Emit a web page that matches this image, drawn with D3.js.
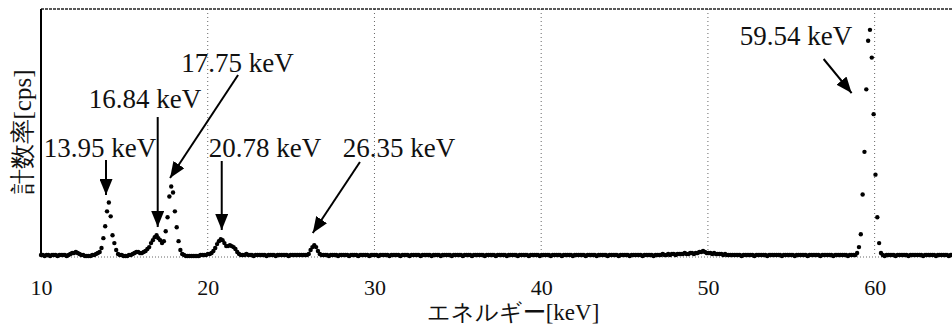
<!DOCTYPE html>
<html>
<head>
<meta charset="utf-8">
<script src="https://cdn.jsdelivr.net/npm/d3@7"></script>
<style>
  body { margin: 0; background: #fff; }
  text { fill: #111; }
</style>
</head>
<body>
<script>
const margin = {top: 9, right: -6, bottom: 68, left: 41};
const width = 952 - margin.left - margin.right;
const height = 325 - margin.top - margin.bottom;

// spectrum: one count rate per channel, channel i sits at startEnergy + i*channelWidth
const startEnergy = 10;
const channelWidth = 0.11;
const counts = [
  2,2,1,2,2,1,2,2,2,1, 2,2,2,2,1,2,3,4,4,5,
  4,3,2,2,1,1,1,1,2,2, 3,4,5,9,19,31,46,55,41,22,
  14,7,3,2,2,1,1,1,2,2, 3,4,5,5,4,4,5,6,8,10,
  14,17,20,22,19,17,14,16,26,40, 61,71,65,46,30,16,7,3,2,1,
  1,1,1,1,1,1,1,2,2,2, 2,3,3,4,6,9,13,16,18,17,
  14,11,11,12,11,10,8,5,3,2, 2,2,3,2,2,2,1,2,2,2,
  2,2,2,1,2,2,2,2,1,2, 2,2,2,2,2,1,2,2,2,2,
  2,2,2,2,2,2,3,7,10,12, 10,6,3,2,2,2,2,1,2,2,
  2,2,1,2,2,2,2,2,1,2, 2,2,2,1,2,2,2,2,2,1,
  2,2,2,2,1,2,2,2,2,2, 1,2,2,2,2,2,1,2,2,2,
  2,1,2,2,2,2,2,1,2,2, 2,2,2,1,2,2,2,2,1,2,
  2,2,2,2,1,2,2,2,2,2, 1,2,2,2,2,1,2,2,2,2,
  2,2,1,2,2,2,2,2,1,2, 2,2,2,2,1,2,2,2,2,2,
  1,2,2,2,2,2,1,2,2,2, 2,2,1,2,2,2,2,2,1,2,
  2,2,2,2,1,2,2,2,2,2, 1,2,2,2,2,2,2,1,2,2,
  2,2,2,1,2,2,2,2,2,1, 2,2,2,2,2,1,2,2,2,2,
  2,1,2,2,2,2,2,2,1,2, 2,2,2,2,1,2,2,2,2,3,
  2,2,3,2,3,3,2,3,3,3, 3,4,3,3,4,4,3,4,4,5,
  5,6,5,4,4,4,3,4,3,3, 3,3,2,3,2,2,2,2,2,2,
  2,2,1,2,2,2,2,2,2,1, 2,2,2,2,2,2,1,2,2,2,
  2,2,2,2,1,2,2,2,2,2, 2,1,2,2,2,2,2,2,1,2,
  2,2,2,2,2,1,2,2,2,2, 2,2,1,2,2,2,2,2,2,2,
  1,2,2,2,2,4,10,23,63,106, 169,218,229,201,144,83,40,14,4,2,
  1,2,2,2,2,2,1,2,2,2, 2,2,2,1,2,2,2,2,2,2,
  2,1,2,2,2,2,2,2,1,2, 2,2,2,2,2,1,2,2,2,2
];

const xTicks = [10, 20, 30, 40, 50, 60];
const gridTicks = [20, 30, 40, 50, 60];

const peakEnergies = [13.95, 16.84, 17.75, 20.78, 26.35, 59.54];

// where each label / arrow goes, in keV and cps
const annoLayout = [
  {label: [13.54, 100.8], from: [13.90, 97.8],  to: [13.90, 62.5]},
  {label: [16.24, 150.2], from: [17.00, 141.1], to: [17.00, 30.2]},
  {label: [21.79, 186.5], from: [21.82, 183.5], to: [17.74, 79.6]},
  {label: [23.43, 100.8], from: [20.84, 96.8],  to: [20.84, 27.2]},
  {label: [31.47, 100.8], from: [29.13, 95.8],  to: [26.30, 24.2]},
  {label: [55.28, 213.7], from: [56.94, 199.6], to: [58.62, 165.3]}
];

var spectrum = counts.map(function(c, i){
    return {energy: startEnergy + i * channelWidth, cps: c};
});

var svg = d3.select("body")
            .append("svg")
            .attr("width", 952)
            .attr("height", 325);

var x = d3.scaleLinear().domain([10, 65]).range([0, width]);
var y = d3.scaleLinear().domain([0, 250]).range([height, 0]);

svg.append("defs").append("marker")
    .attr("id", "arrow")
    .attr("viewBox", "0 0 16 13")
    .attr("refX", 16)
    .attr("refY", 6.5)
    .attr("markerWidth", 16)
    .attr("markerHeight", 13)
    .attr("markerUnits", "userSpaceOnUse")
    .attr("orient", "auto")
    .append("path")
    .attr("d", "M0,0 L16,6.5 L0,13 Z")
    .attr("fill", "#000");

var g = svg.append("g")
           .attr("transform", "translate(" + margin.left + "," + margin.top + ")");

// dotted vertical grid
g.selectAll(".grid")
    .data(gridTicks)
    .join("line")
    .attr("class", "grid")
    .attr("x1", d => x(d))
    .attr("x2", d => x(d))
    .attr("y1", 0)
    .attr("y2", height)
    .attr("stroke", "#666")
    .attr("stroke-width", 1)
    .attr("stroke-dasharray", "1,3");

// frame: dotted bottom, dark top, solid left
g.append("line")
    .attr("x1", 0).attr("x2", width)
    .attr("y1", height).attr("y2", height)
    .attr("stroke", "#666")
    .attr("stroke-dasharray", "1,2");
g.append("line")
    .attr("x1", 0).attr("x2", width)
    .attr("y1", 0).attr("y2", 0)
    .attr("stroke", "#222")
    .attr("stroke-width", 1.5)
    .attr("stroke-dasharray", "3,1");
g.append("line")
    .attr("x1", 0).attr("x2", 0)
    .attr("y1", 0).attr("y2", height)
    .attr("stroke", "#000")
    .attr("stroke-width", 2);

// x tick labels (default browser font, which renders as a serif here)
var xAxis = g.append("g")
    .attr("transform", "translate(0," + height + ")")
    .call(d3.axisBottom(x).tickValues(xTicks).tickSize(0).tickPadding(22).tickFormat(d3.format("d")));
xAxis.attr("font-family", null).attr("font-size", null);
xAxis.select(".domain").remove();
xAxis.selectAll("text")
    .attr("font-size", "22px")
    .attr("fill", "#111");

// spectrum points
g.selectAll(".pt")
    .data(spectrum)
    .join("circle")
    .attr("class", "pt")
    .attr("cx", d => x(d.energy))
    .attr("cy", d => y(d.cps))
    .attr("r", 2.2)
    .attr("fill", "#000");

// peak labels and arrows
g.selectAll(".peakLabel")
    .data(peakEnergies)
    .join("text")
    .attr("class", "peakLabel")
    .attr("x", (d, i) => x(annoLayout[i].label[0]))
    .attr("y", (d, i) => y(annoLayout[i].label[1]))
    .attr("text-anchor", "middle")
    .attr("font-size", "27px")
    .text(d => d.toFixed(2) + " keV");

g.selectAll(".arrow")
    .data(annoLayout)
    .join("line")
    .attr("class", "arrow")
    .attr("x1", d => x(d.from[0]))
    .attr("y1", d => y(d.from[1]))
    .attr("x2", d => x(d.to[0]))
    .attr("y2", d => y(d.to[1]))
    .attr("stroke", "#000")
    .attr("stroke-width", 2)
    .attr("marker-end", "url(#arrow)");

// axis titles
svg.append("text")
    .attr("x", 513)
    .attr("y", 320)
    .attr("text-anchor", "middle")
    .attr("font-size", "23px")
    .text("エネルギー[keV]");

svg.append("text")
    .attr("transform", "translate(22,132) rotate(-90)")
    .attr("text-anchor", "middle")
    .attr("dy", "0.35em")
    .attr("font-size", "25px")
    .text("計数率[cps]");
</script>
</body>
</html>
